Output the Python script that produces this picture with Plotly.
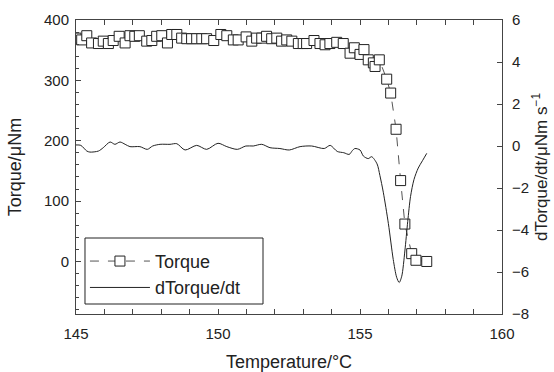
import plotly.graph_objects as go

# Torque data (left axis)
temp_torque = [145.0, 145.2, 145.38, 145.55, 145.79, 145.96, 146.14, 146.31, 146.52, 146.73,
               146.9, 147.07, 147.23, 147.49, 147.67, 147.84, 148.02, 148.22, 148.37, 148.55,
               148.72, 148.9, 149.07, 149.25, 149.43, 149.6, 149.85, 150.1, 150.31, 150.54,
               150.71, 150.99, 151.19, 151.36, 151.54, 151.71, 151.89, 152.07, 152.24, 152.42,
               152.6, 152.83, 153.0, 153.12, 153.38, 153.59, 153.77, 153.94, 154.18, 154.41,
               154.65, 154.8, 155.0, 155.14, 155.29, 155.47, 155.53, 155.68, 155.94, 156.08,
               156.27, 156.43, 156.58, 156.82, 156.97, 157.35]
torque = [370, 367, 374, 362, 361, 365, 361, 366, 373, 362,
          374, 373, 374, 365, 366, 373, 374, 362, 376, 376,
          370, 369, 369, 369, 369, 369, 366, 376, 374, 367,
          367, 372, 365, 370, 370, 373, 369, 370, 365, 367,
          365, 361, 361, 361, 366, 361, 359, 361, 363, 361,
          345, 354, 343, 351, 334, 329, 323, 334, 302, 279,
          219, 134, 62, 13, 2, 0]

# dTorque/dt data (right axis)
temp_deriv = [145.0, 145.17, 145.38, 145.49, 145.79, 145.96, 146.2, 146.37, 146.55, 146.73,
              146.9, 147.25, 147.51, 147.7, 147.96, 148.31, 148.55, 148.84, 149.25, 149.6,
              150.0, 150.31, 150.68, 150.98, 151.24, 151.54, 151.83, 152.18, 152.51, 152.89,
              153.3, 153.74, 153.95, 154.2, 154.43, 154.62, 154.73, 154.82, 155.0, 155.12,
              155.29, 155.41, 155.6, 155.7, 155.82, 156.0, 156.17, 156.29, 156.38, 156.47,
              156.58, 156.68, 156.78, 156.9, 157.05, 157.2, 157.35]
deriv = [0.05, 0.03, -0.24, -0.29, -0.24, -0.08, 0.19, 0.08, 0.19, 0.08,
         -0.03, -0.03, -0.16, 0.0, 0.08, 0.08, 0.11, -0.19, 0.03, -0.16,
         0.13, -0.03, -0.16, 0.0, 0.0, 0.08, -0.08, -0.12, -0.19, -0.03,
         0.0, -0.12, 0.03, -0.26, -0.32, -0.40, -0.22, -0.12, -0.19, -0.48,
         -0.60, -0.51, -0.85, -1.4, -2.2, -3.7, -5.4, -6.25, -6.5, -6.2,
         -5.0, -3.6, -2.4, -1.6, -1.05, -0.7, -0.35]

left_ticks = [0, 100, 200, 300, 400]
right_ticks = [-8, -6, -4, -2, 0, 2, 4, 6]
x_ticks = [145, 150, 155, 160]

FONT = "Liberation Sans, Arial, sans-serif"
AX = "#444444"

fig = go.Figure()
fig.add_trace(go.Scatter(
    x=temp_torque, y=torque, name="Torque", mode="lines+markers",
    line=dict(color="#555555", width=1, dash="dash"),
    marker=dict(symbol="square", size=10, color="white",
                line=dict(color="#222222", width=1)),
    yaxis="y"))
fig.add_trace(go.Scatter(
    x=temp_deriv, y=deriv, name="dTorque/dt", mode="lines",
    line=dict(color="#222222", width=1, shape="spline", smoothing=0.8),
    yaxis="y2"))

# legend frame
fig.add_shape(type="rect", xref="paper", yref="paper",
              x0=0.0211, x1=0.439, y0=0.034, y1=0.2585,
              line=dict(color="#222222", width=1), fillcolor="white", layer="above")

fig.update_layout(
    width=554, height=372,
    margin=dict(l=76, r=52, t=20, b=58, autoexpand=False),
    paper_bgcolor="white", plot_bgcolor="white",
    font=dict(family=FONT, size=15, color="#222222"),
    showlegend=True,
    legend=dict(x=0.021, y=0.242, xanchor="left", yanchor="top",
                bgcolor="rgba(0,0,0,0)", borderwidth=0,
                font=dict(size=18, color="#222222"),
                itemwidth=60, tracegroupgap=0),
    xaxis=dict(range=[145, 160], tickvals=x_ticks, ticks="inside", ticklen=5,
               tickcolor=AX, linecolor=AX, linewidth=1, showline=True,
               mirror="allticks", showgrid=False, zeroline=False, automargin=False,
               minor=dict(dtick=1, ticks="inside", ticklen=3, tickcolor=AX, showgrid=False),
               title=dict(text="Temperature/°C", font=dict(size=18), standoff=14),
               ticklabelstandoff=6,
               tickfont=dict(size=15)),
    yaxis=dict(range=[-87, 400], tickvals=left_ticks, ticks="inside", ticklen=5,
               tickcolor=AX, linecolor=AX, linewidth=1, showline=True,
               showgrid=False, zeroline=False, automargin=False,
               minor=dict(dtick=20, tick0=0, ticks="inside", ticklen=3, tickcolor=AX, showgrid=False),
               title=dict(text="Torque/μNm", font=dict(size=18), standoff=17),
               ticklabelstandoff=3,
               tickfont=dict(size=15)),
    yaxis2=dict(range=[-8, 6], tickvals=right_ticks,
                ticktext=[("−" + str(-v)) if v < 0 else str(v) for v in right_ticks],
                ticks="inside", ticklen=5, overlaying="y", side="right",
                tickcolor=AX, linecolor=AX, linewidth=1, showline=True,
                showgrid=False, zeroline=False, ticklabelstandoff=6, automargin=False,
                title=dict(text="dTorque/dt/μNm s<sup>−1</sup>", font=dict(size=17), standoff=2),
                tickfont=dict(size=15)),
)

fig.write_html("out.html")
